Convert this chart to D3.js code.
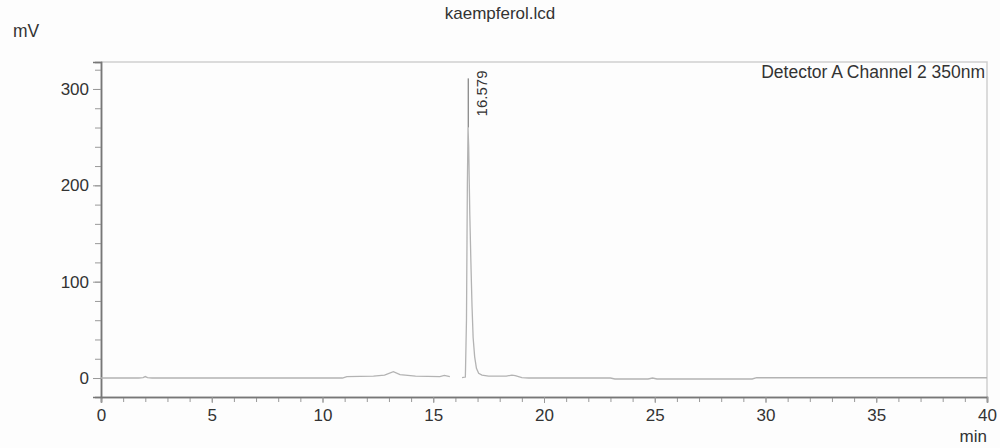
<!DOCTYPE html>
<html>
<head>
<meta charset="utf-8">
<script src="https://cdn.jsdelivr.net/npm/d3@7"></script>
<style>
  body { margin: 0; background: #fdfdfd; }
  text { font-family: "Liberation Sans", Arial, sans-serif; fill: #333; }
</style>
</head>
<body>
<div id="chart"></div>
<script>
// Data (retention time in min, signal in mV); null = gap in trace
var times = [0, 1.7, 1.9, 2.0, 2.1, 2.3, 5.5, 9.0, 10.9, 11.1, 12.3, 12.8, 13.2, 13.5, 14.2, 15.3, 15.5, 15.75, 15.8,
  16.3, 16.45, 16.5, 16.54, 16.57, 16.6, 16.65, 16.7, 16.75, 16.8, 16.87, 16.95, 17.05, 17.2, 17.5, 18.3, 18.55, 18.7,
  19.0, 19.3, 23.0, 23.2, 24.7, 24.9, 25.1, 29.4, 29.6, 40];
var signal = [0, 0, 0.5, 1.5, 0.5, 0, 0, 0, 0, 1.5, 2, 3, 6.5, 3.5, 2, 1.5, 2.8, 1.5, null,
  0.5, 1, 60, 200, 260, 240, 170, 120, 75, 42, 22, 10, 5, 3, 2, 2, 3, 2.5,
  0.5, 0, 0, -1, -1, 0, -1, -1, 0.3, 0.3];
var peakTimes = [16.579];
var peakLabels = ["16.579"];
var peakMarkerTop = 311;

var xTicks = [0, 5, 10, 15, 20, 25, 30, 35, 40];
var yTicks = [0, 100, 200, 300];

var svgWidth = 1000;
var svgHeight = 448;

var margin = { top: 62, right: 13, bottom: 51, left: 101 };
var chartWidth = svgWidth - margin.left - margin.right;
var chartHeight = svgHeight - margin.top - margin.bottom;

var svg = d3.select("#chart").append("svg")
  .attr("width", svgWidth)
  .attr("height", svgHeight);

var chartGroup = svg.append("g")
  .attr("transform", "translate(" + margin.left + "," + margin.top + ")");

var xScale = d3.scaleLinear().domain([0, 40]).range([0, chartWidth]);
var yScale = d3.scaleLinear().domain([-19.7, 328]).range([chartHeight, 0]);

// frame (top + right)
chartGroup.append("path")
  .attr("d", "M0,0H" + chartWidth + "V" + chartHeight)
  .attr("fill", "none")
  .attr("stroke", "#cfcfcf")
  .attr("stroke-width", 1.5);

// minor ticks
var xMinor = d3.range(0, 41, 1);
var yMinor = d3.range(20, 330, 20);

var xAxis = d3.axisBottom(xScale).tickValues(xTicks).tickSize(6).tickPadding(6).tickFormat(d3.format("d"));
var xMinorAxis = d3.axisBottom(xScale).tickValues(xMinor).tickSize(5).tickFormat("");
var yAxis = d3.axisLeft(yScale).tickValues(yTicks).tickSize(8).tickPadding(4).tickFormat(d3.format("d"));
var yMinorAxis = d3.axisLeft(yScale).tickValues(yMinor).tickSize(6).tickFormat("");

var xg = chartGroup.append("g").attr("transform", "translate(0," + chartHeight + ")");
xg.call(xMinorAxis);
xg.append("g").call(xAxis);
var yg = chartGroup.append("g");
yg.call(yMinorAxis);
yg.append("g").call(yAxis);

chartGroup.selectAll(".domain").attr("stroke", "#777").attr("stroke-width", 1.5);
chartGroup.selectAll(".tick line").attr("stroke", "#999");
chartGroup.selectAll(".tick text").style("font-size", "17px").attr("fill", "#333");

// trace
var pts = times.map(function(t, i) { return { t: t, v: signal[i] }; });
var line = d3.line()
  .defined(function(d) { return d.v !== null; })
  .x(function(d) { return xScale(d.t); })
  .y(function(d) { return yScale(d.v); });

chartGroup.append("path")
  .datum(pts)
  .attr("d", line)
  .attr("fill", "none")
  .attr("stroke", "#b3b3b3")
  .attr("stroke-width", 1.3);

// peak marker + label
peakTimes.forEach(function(t, i) {
  chartGroup.append("line")
    .attr("x1", xScale(t)).attr("x2", xScale(t))
    .attr("y1", yScale(d3.max(signal))).attr("y2", yScale(peakMarkerTop))
    .attr("stroke", "#666")
    .attr("stroke-width", 1);
  chartGroup.append("text")
    .attr("transform", "translate(" + (xScale(t) + 19) + "," + (yScale(peakMarkerTop) + 38) + ") rotate(-90)")
    .style("font-size", "15px")
    .style("text-anchor", "start")
    .text(peakLabels[i]);
});

// labels
svg.append("text")
  .attr("x", 500).attr("y", 19)
  .style("text-anchor", "middle")
  .style("font-size", "17px")
  .text("kaempferol.lcd");

svg.append("text")
  .attr("x", 13).attr("y", 37)
  .style("font-size", "17.5px")
  .text("mV");

svg.append("text")
  .attr("x", 985).attr("y", 78)
  .style("text-anchor", "end")
  .style("font-size", "17.5px")
  .text("Detector A Channel 2 350nm");

svg.append("text")
  .attr("x", 987).attr("y", 442)
  .style("text-anchor", "end")
  .style("font-size", "17px")
  .text("min");
</script>
</body>
</html>
